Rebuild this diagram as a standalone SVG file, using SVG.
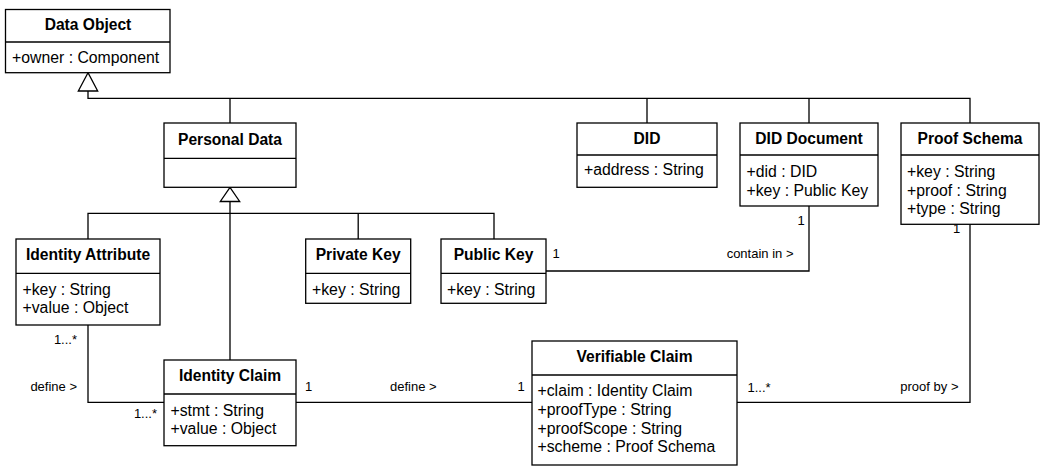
<svg xmlns="http://www.w3.org/2000/svg" width="1041" height="466" viewBox="0 0 1041 466">
<style>
.box{fill:#fff;stroke:#000;stroke-width:1.3}
.ln{fill:none;stroke:#000;stroke-width:1.3}
.t{font-family:"Liberation Sans",Arial,Helvetica,sans-serif;font-size:15.6px;font-weight:bold;text-anchor:middle;fill:#000}
.a{font-family:"Liberation Sans",Arial,Helvetica,sans-serif;font-size:15.8px;fill:#000}
.l{font-family:"Liberation Sans",Arial,Helvetica,sans-serif;font-size:13px;fill:#000}
.e{text-anchor:end}
.tri{fill:#fff;stroke:#000;stroke-width:1.3}
</style>
<rect width="1041" height="466" fill="#fff"/>
<g id="connectors">
  <!-- generalization to Data Object -->
  <path class="ln" d="M88,91 V98.3 H970 V123 M230,98.3 V123 M647,98.3 V123 M809,98.3 V123"/>
  <polygon class="tri" points="88,72.7 78.3,91 97.7,91"/>
  <!-- generalization to Personal Data -->
  <path class="ln" d="M230,201.5 V360 M88,239 V213.3 H494 V239 M358.2,213.3 V239"/>
  <polygon class="tri" points="230,187.3 220.3,201.5 239.7,201.5"/>
  <!-- associations -->
  <path class="ln" d="M88,325 V402.3 H164"/>
  <path class="ln" d="M296,402.3 H532"/>
  <path class="ln" d="M546,271 H809 V206"/>
  <path class="ln" d="M737,402.3 H970 V224"/>
  <text class="l e" x="77" y="344.3">1...*</text>
  <text class="l e" x="77" y="390.7">define &gt;</text>
  <text class="l e" x="157" y="418.3">1...*</text>
  <text class="l" x="305" y="390.7">1</text>
  <text class="l" x="390" y="390.7">define &gt;</text>
  <text class="l" x="517.5" y="390.7">1</text>
  <text class="l" x="552.5" y="258">1</text>
  <text class="l e" x="793.5" y="258">contain in &gt;</text>
  <text class="l" x="797.5" y="225">1</text>
  <text class="l" x="953" y="233">1</text>
  <text class="l" x="747.5" y="391.7">1...*</text>
  <text class="l e" x="958.5" y="391">proof by &gt;</text>
</g>
<g id="data-object">
  <rect class="box" x="5.5" y="9.5" width="164.5" height="63.2"/>
  <line class="ln" x1="5.5" y1="42" x2="170" y2="42"/>
  <text class="t" x="88" y="30">Data Object</text>
  <text class="a" x="12" y="63">+owner : Component</text>
</g>
<g id="personal-data">
  <rect class="box" x="164" y="123" width="132" height="64.3"/>
  <line class="ln" x1="164" y1="158.3" x2="296" y2="158.3"/>
  <text class="t" x="230" y="145">Personal Data</text>
</g>
<g id="did">
  <rect class="box" x="577" y="123" width="140" height="64.3"/>
  <line class="ln" x1="577" y1="155" x2="717" y2="155"/>
  <text class="t" x="647" y="144">DID</text>
  <text class="a" x="584" y="175">+address : String</text>
</g>
<g id="did-document">
  <rect class="box" x="740" y="123" width="138" height="83"/>
  <line class="ln" x1="740" y1="155" x2="878" y2="155"/>
  <text class="t" x="809" y="144">DID Document</text>
  <text class="a" x="746.5" y="177.3">+did : DID</text>
  <text class="a" x="746.5" y="195.7">+key : Public Key</text>
</g>
<g id="proof-schema">
  <rect class="box" x="901" y="123" width="138" height="101.3"/>
  <line class="ln" x1="901" y1="155" x2="1039" y2="155"/>
  <text class="t" x="970" y="144">Proof Schema</text>
  <text class="a" x="907" y="177.3">+key : String</text>
  <text class="a" x="907" y="195.7">+proof : String</text>
  <text class="a" x="907" y="214">+type : String</text>
</g>
<g id="identity-attribute">
  <rect class="box" x="16" y="239" width="144" height="86"/>
  <line class="ln" x1="16" y1="273.3" x2="160" y2="273.3"/>
  <text class="t" x="88" y="260">Identity Attribute</text>
  <text class="a" x="22.5" y="295">+key : String</text>
  <text class="a" x="22.5" y="313.3">+value : Object</text>
</g>
<g id="private-key">
  <rect class="box" x="305.7" y="239" width="105" height="64.3"/>
  <line class="ln" x1="305.7" y1="273.3" x2="410.7" y2="273.3"/>
  <text class="t" x="358.2" y="260">Private Key</text>
  <text class="a" x="312" y="295">+key : String</text>
</g>
<g id="public-key">
  <rect class="box" x="441" y="239" width="105" height="64.3"/>
  <line class="ln" x1="441" y1="273.3" x2="546" y2="273.3"/>
  <text class="t" x="493.5" y="260">Public Key</text>
  <text class="a" x="447" y="295">+key : String</text>
</g>
<g id="identity-claim">
  <rect class="box" x="164" y="360" width="132" height="85.7"/>
  <line class="ln" x1="164" y1="394" x2="296" y2="394"/>
  <text class="t" x="230" y="381">Identity Claim</text>
  <text class="a" x="170.5" y="416">+stmt : String</text>
  <text class="a" x="170.5" y="434.3">+value : Object</text>
</g>
<g id="verifiable-claim">
  <rect class="box" x="532" y="341" width="205" height="124"/>
  <line class="ln" x1="532" y1="375" x2="737" y2="375"/>
  <text class="t" x="634.5" y="361.7">Verifiable Claim</text>
  <text class="a" x="537.5" y="396">+claim : Identity Claim</text>
  <text class="a" x="537.5" y="415">+proofType : String</text>
  <text class="a" x="537.5" y="433.5">+proofScope : String</text>
  <text class="a" x="537.5" y="452">+scheme : Proof Schema</text>
</g>
</svg>
